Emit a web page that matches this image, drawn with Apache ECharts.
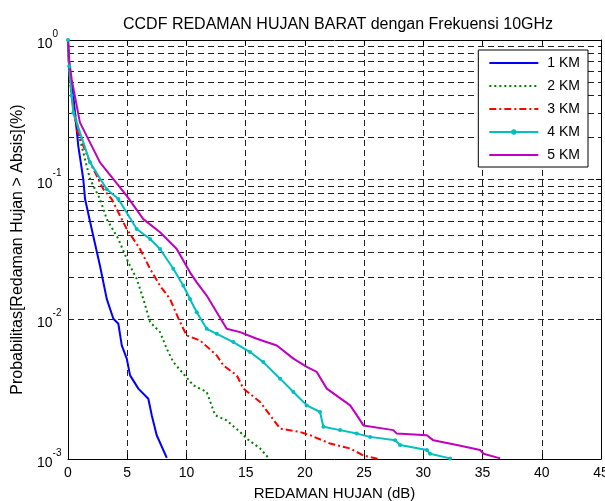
<!DOCTYPE html>
<html>
<head>
<meta charset="utf-8">
<script src="https://cdn.jsdelivr.net/npm/echarts@6/dist/echarts.min.js"></script>
<style>
  html, body { margin: 0; padding: 0; background: #fff; }
  #chart { width: 605px; height: 501px; }
</style>
</head>
<body>
<div id="chart"></div>
<script>
// data: [redaman (dB), probabilitas]
const seriesNames = ['1 KM', '2 KM', '3 KM', '4 KM', '5 KM'];

const km1 = [
    [0, 1], [0.1, 0.6], [0.45, 0.397], [0.87, 0.174], [1.29, 0.101], [1.44, 0.0726],
    [2.0, 0.0443], [2.7, 0.0242], [3.27, 0.014], [3.83, 0.0101], [4.25, 0.0093],
    [4.54, 0.0065], [4.96, 0.00523], [5.24, 0.00397], [5.94, 0.00319], [6.78, 0.0027],
    [7.07, 0.00206], [7.49, 0.00148], [8.34, 0.00102]
];
const km2 = [
    [0, 1], [0.1, 0.6], [0.31, 0.397], [1.01, 0.194], [1.86, 0.101], [2.7, 0.0726],
    [3.27, 0.0522], [4.25, 0.0376], [5.09, 0.0256], [5.8, 0.0195], [6.36, 0.014],
    [6.93, 0.00955], [7.77, 0.0081], [8.34, 0.00615], [8.89, 0.00494], [9.74, 0.00408],
    [10.58, 0.00337], [11.71, 0.00302], [12.42, 0.00206], [13.4, 0.00189],
    [14.53, 0.00156], [15.09, 0.0014], [16.22, 0.00119], [16.92, 0.00102]
];
const km3 = [
    [0, 1], [0.1, 0.62], [0.3, 0.4], [0.73, 0.229], [1.86, 0.133], [2.98, 0.0855],
    [3.69, 0.0726], [4.96, 0.0443], [6.08, 0.0319], [6.93, 0.023], [7.77, 0.0174],
    [8.61, 0.014], [9.46, 0.00955], [10.02, 0.00766], [11.15, 0.00706], [12.56, 0.00551],
    [13.12, 0.00468], [14.25, 0.00397], [14.81, 0.00319], [16.22, 0.00256],
    [17.06, 0.00206], [17.91, 0.00165], [19.59, 0.00156], [20.44, 0.00148],
    [22.13, 0.00129], [23.82, 0.00119], [24.94, 0.00106], [26.2, 0.001]
];
const km4 = [
    [0, 1], [0.1, 0.65], [0.3, 0.4], [0.45, 0.302], [1.86, 0.133], [3.27, 0.0855],
    [4.25, 0.0726], [5.8, 0.0443], [6.93, 0.0376], [7.77, 0.0319], [8.89, 0.023],
    [9.74, 0.0174], [10.3, 0.014], [10.87, 0.01125], [11.71, 0.00855], [12.56, 0.00787],
    [13.96, 0.00687], [15.37, 0.00583], [16.49, 0.00494], [17.91, 0.00376],
    [19.03, 0.00302], [20.16, 0.00242], [21.28, 0.00217], [21.56, 0.0017],
    [22.97, 0.00161], [24.38, 0.00152], [25.51, 0.00144], [27.62, 0.00136],
    [28.04, 0.00126], [30.3, 0.00116], [30.57, 0.00109], [32.26, 0.00101]
];
const km5 = [
    [0, 1], [0.1, 0.72], [0.31, 0.522], [1.01, 0.256], [2.7, 0.133], [4.96, 0.0766],
    [6.36, 0.0522], [7.77, 0.042], [9.18, 0.0319], [10.3, 0.0217], [10.87, 0.0184],
    [11.71, 0.0148], [12.56, 0.01125], [13.4, 0.00855], [14.53, 0.0081], [15.94, 0.00726],
    [17.63, 0.0065], [19.03, 0.00523], [20.16, 0.00456], [21.0, 0.0042], [21.85, 0.00319],
    [23.82, 0.00242], [24.38, 0.00206], [24.94, 0.00174], [27.47, 0.00161],
    [27.76, 0.00152], [30.3, 0.00148], [30.85, 0.00136], [32.83, 0.00126],
    [34.8, 0.00116], [35.08, 0.00109], [36.49, 0.00101]
];

// minor grid values of the log axis (2..9 per decade)
const minorGrid = [];
[0.001, 0.01, 0.1].forEach(d => {
    for (let k = 2; k <= 9; k++) minorGrid.push(+(d * k).toPrecision(3));
});

const FONT = 'Liberation Sans, Arial, sans-serif';
const gridLine = { color: '#222', width: 1, type: [6, 4] };

const chart = echarts.init(document.getElementById('chart'));

function makeLine(name, data, color, type, extra) {
    return Object.assign({
        name: name,
        type: 'line',
        data: data,
        showSymbol: false,
        symbol: 'none',
        animation: false,
        lineStyle: { color: color, width: 2, type: type },
        itemStyle: { color: color }
    }, extra || {});
}

const option = {
    backgroundColor: '#fff',
    animation: false,
    title: {
        text: 'CCDF REDAMAN HUJAN BARAT dengan Frekuensi 10GHz',
        left: 118,
        top: 12,
        textStyle: { fontFamily: FONT, fontSize: 16, fontWeight: 'normal', color: '#000' }
    },
    grid: { left: 68, right: 4, top: 40, bottom: 42, outerBoundsMode: 'none' },
    legend: {
        orient: 'vertical',
        right: 17,
        top: 50,
        z: 10,
        itemWidth: 49,
        itemHeight: 7,
        itemGap: 9,
        padding: [6, 8, 5, 10],
        backgroundColor: '#fff',
        borderColor: '#000',
        borderWidth: 1,
        itemStyle: { opacity: 0 },
        textStyle: { fontFamily: FONT, fontSize: 14, lineHeight: 14, color: '#000', padding: [0, 0, 0, 4] },
        data: seriesNames.map(n => n === '4 KM' ? { name: n, itemStyle: { opacity: 1 } } : n)
    },
    xAxis: [{
        type: 'value',
        min: 0, max: 45, interval: 5,
        name: 'REDAMAN HUJAN (dB)',
        nameLocation: 'middle',
        nameGap: 27,
        nameTextStyle: { fontFamily: FONT, fontSize: 15, color: '#000' },
        axisLine: { show: true, onZero: false, lineStyle: { color: '#000', width: 1 } },
        axisTick: { show: true, inside: true, length: 5, lineStyle: { color: '#000' } },
        axisLabel: { fontFamily: FONT, fontSize: 14, color: '#000', margin: 7 },
        splitLine: { show: true, lineStyle: gridLine }
    }, {
        type: 'value', position: 'top',
        min: 0, max: 45, interval: 5,
        axisLine: { show: true, onZero: false, lineStyle: { color: '#000', width: 1 } },
        axisTick: { show: true, inside: true, length: 5, lineStyle: { color: '#000' } },
        axisLabel: { show: false },
        splitLine: { show: false }
    }],
    yAxis: [{
        type: 'log',
        logBase: 10,
        min: 0.001, max: 1,
        name: 'Probabilitas[Redaman Hujan > Absis](%)',
        nameLocation: 'middle',
        nameGap: 42,
        nameTextStyle: { fontFamily: FONT, fontSize: 16, color: '#000' },
        axisLine: { show: true, onZero: false, lineStyle: { color: '#000', width: 1 } },
        axisTick: { show: true, inside: true, length: 5, lineStyle: { color: '#000' } },
        axisLabel: {
            margin: 31,
            align: 'left',
            fontFamily: FONT,
            formatter: v => '{b|10}{s|' + Math.round(Math.log10(v)) + '}',
            rich: {
                b: { fontFamily: FONT, fontSize: 14, color: '#000', lineHeight: 22, verticalAlign: 'bottom' },
                s: { fontFamily: FONT, fontSize: 10, color: '#000', lineHeight: 11, verticalAlign: 'top' }
            }
        },
        splitLine: { show: true, lineStyle: gridLine }
    }, {
        type: 'log',
        logBase: 10,
        min: 0.001, max: 1,
        position: 'right',
        axisLine: { show: true, onZero: false, lineStyle: { color: '#000', width: 1 } },
        axisTick: { show: true, inside: true, length: 5, lineStyle: { color: '#000' } },
        axisLabel: { show: false },
        splitLine: { show: false }
    }],
    series: [
        makeLine(seriesNames[0], km1, '#0000ff', 'solid', {
            markLine: {
                silent: true,
                z: 1,
                symbol: 'none',
                label: { show: false },
                lineStyle: gridLine,
                data: minorGrid.map(v => ({ yAxis: v }))
            }
        }),
        makeLine(seriesNames[1], km2, '#008000', [2, 3]),
        makeLine(seriesNames[2], km3, '#ff0000', [7, 3, 2, 3]),
        makeLine(seriesNames[3], km4, '#00bfbf', 'solid', {
            symbol: 'circle', symbolSize: 4, showSymbol: true
        }),
        makeLine(seriesNames[4], km5, '#bf00bf', 'solid')
    ]
};

chart.setOption(option);
</script>
</body>
</html>
